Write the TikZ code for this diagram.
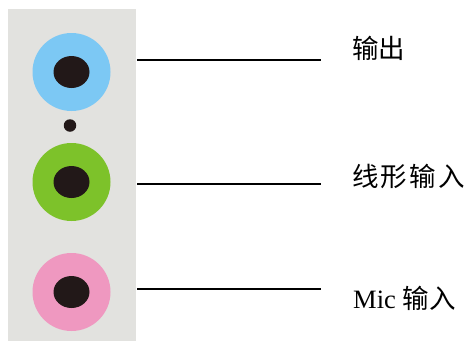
\documentclass[tikz,border=0pt]{standalone}
\usepackage{fontspec}
\setmainfont{Liberation Serif}
\newfontfamily\cjk{Noto Sans CJK SC}
\newfontfamily\cjkwide{Noto Sans CJK SC}[LetterSpace=8]
\definecolor{panelgrey}{HTML}{E2E2DF}
\definecolor{jackblue}{HTML}{7CC8F4}
\definecolor{jackgreen}{HTML}{7DC22A}
\definecolor{jackpink}{HTML}{EF98C0}
\definecolor{holeblack}{HTML}{221818}
\tikzset{
  jackring/.style={circle, minimum size=78pt, inner sep=0pt},
  hole/.style={ellipse, fill=holeblack, minimum width=36pt, minimum height=32pt, inner sep=0pt},
  lbl/.style={anchor=west, inner sep=0pt, font=\fontsize{26.5}{30}\selectfont},
  leader/.style={line width=1.3pt, black}
}
\usetikzlibrary{shapes.geometric}
\begin{document}
\begin{tikzpicture}[x=1pt,y=-1pt]
\useasboundingbox (0,0) rectangle (466,341);
\fill[white] (0,0) rectangle (466,341);
\fill[panelgrey] (8,9) rectangle (136,341);
% jacks
\node[jackring, fill=jackblue] (blue) at (71.5,72) {};
\node[hole] (blueh) at (blue.center) {};
\node[circle, fill=holeblack, minimum size=12.5pt, inner sep=0pt] (dot) at (70,125.5) {};
\node[jackring, fill=jackgreen] (green) at (71.5,182) {};
\node[hole] (greenh) at (green.center) {};
\node[jackring, fill=jackpink] (pink) at (71.5,292) {};
\node[hole] (pinkh) at (pink.center) {};
% labels
\node[lbl] (t1) at (352,48) {\cjk 输出};
\node[lbl] (t2) at (352,176) {\cjkwide 线形输入};
\node[lbl] (t3) at (353,298) {Mic {\cjk 输入}};
% leader lines
\coordinate (a1) at (137,60);
\coordinate (b1) at (321,60);
\coordinate (a2) at (137,184);
\coordinate (b2) at (321,184);
\coordinate (a3) at (137,289);
\coordinate (b3) at (321,289);
\draw[leader] (a1) -- (b1);
\draw[leader] (a2) -- (b2);
\draw[leader] (a3) -- (b3);
\end{tikzpicture}
\end{document}
